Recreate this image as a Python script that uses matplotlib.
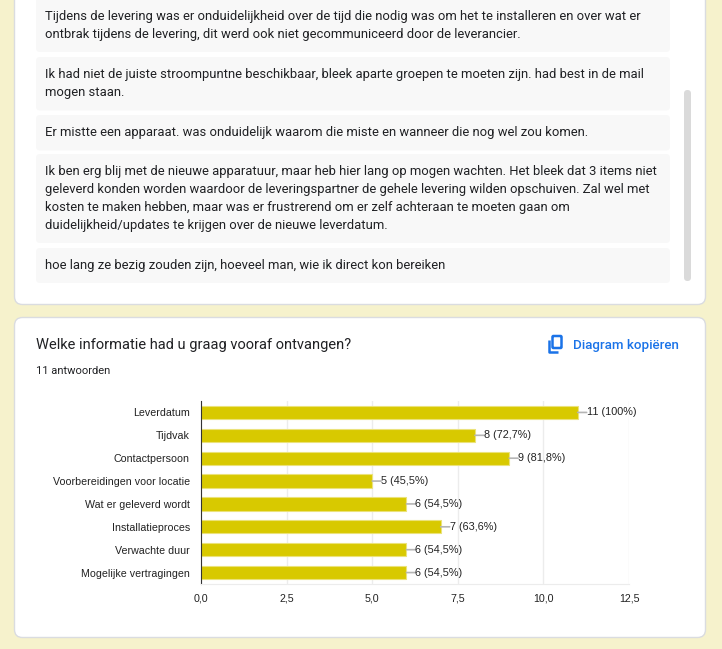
import matplotlib
matplotlib.use("Agg")
import matplotlib.pyplot as plt
from matplotlib.patches import FancyBboxPatch
from matplotlib.ticker import FuncFormatter

# Answers to the open question (top card)
responses = [
    ["Tijdens de levering was er onduidelijkheid over de tijd die nodig was om het te installeren en over wat er",
     "ontbrak tijdens de levering, dit werd ook niet gecommuniceerd door de leverancier."],
    ["Ik had niet de juiste stroompuntne beschikbaar, bleek aparte groepen te moeten zijn. had best in de mail",
     "mogen staan."],
    ["Er mistte een apparaat. was onduidelijk waarom die miste en wanneer die nog wel zou komen."],
    ["Ik ben erg blij met de nieuwe apparatuur, maar heb hier lang op mogen wachten. Het bleek dat 3 items niet",
     "geleverd konden worden waardoor de leveringspartner de gehele levering wilden opschuiven. Zal wel met",
     "kosten te maken hebben, maar was er frustrerend om er zelf achteraan te moeten gaan om",
     "duidelijkheid/updates te krijgen over de nieuwe leverdatum."],
    ["hoe lang ze bezig zouden zijn, hoeveel man, wie ik direct kon bereiken"],
]

# Bar chart data
question = "Welke informatie had u graag vooraf ontvangen?"
n_answers = "11 antwoorden"
categories = ["Leverdatum", "Tijdvak", "Contactpersoon", "Voorbereidingen voor locatie",
              "Wat er geleverd wordt", "Installatieproces", "Verwachte duur", "Mogelijke vertragingen"]
counts = [11, 8, 9, 5, 6, 7, 6, 6]
percents = ["100%", "72,7%", "81,8%", "45,5%", "54,5%", "63,6%", "54,5%", "54,5%"]

W, H = 722, 649
fig = plt.figure(figsize=(W / 100, H / 100), dpi=100)
fig.patch.set_facecolor("#f6f2cc")

# background axes in pixel coordinates
bg = fig.add_axes([0, 0, 1, 1])
bg.set_xlim(0, W)
bg.set_ylim(H, 0)
bg.axis("off")

def card(x0, y0, x1, y1):
    bg.add_patch(FancyBboxPatch((x0, y0), x1 - x0, y1 - y0,
                                boxstyle="round,pad=0,rounding_size=8",
                                fc="white", ec="#dadce0", lw=1))

card(14.5, -20, 705.5, 304.5)
card(14.5, 317.5, 705.5, 637.5)

# response boxes
boxes = [(-5, 52), (57, 110.5), (115, 150.5), (154, 243), (248, 283)]
first_line = [16.5, 74.5, 132.5, 171.5, 265.5]
for (y0, y1), lines, ly in zip(boxes, responses, first_line):
    bg.add_patch(FancyBboxPatch((36, y0), 634, y1 - y0,
                                boxstyle="round,pad=0,rounding_size=4",
                                fc="#f8f8f8", ec="none"))
    for k, line in enumerate(lines):
        bg.text(45, ly + 18 * k, line, fontsize=9.4, family="Roboto",
                color="#202124", va="center", ha="left")

# scrollbar
bg.add_patch(FancyBboxPatch((684, 90), 7, 191, boxstyle="round,pad=0,rounding_size=3.5",
                            fc="#dadada", ec="none"))

# chart card header
bg.text(36, 345, question, fontsize=10.5, family="Roboto", color="#202124", va="center")
bg.text(36, 371, n_answers, fontsize=8, family="Roboto", color="#202124", va="center")
bg.text(573, 345, "Diagram kopiëren", fontsize=9.6, family="Roboto", color="#1a73e8",
        va="center", fontweight="medium")
# copy icon
bg.add_patch(FancyBboxPatch((552.5, 336), 9, 12, boxstyle="round,pad=0,rounding_size=1",
                            fc="none", ec="#1a73e8", lw=1.8))
bg.plot([548.5, 548.5, 558], [340, 352, 352], color="#1a73e8", lw=1.8,
        solid_capstyle="butt", solid_joinstyle="round")

# chart axes
ax = fig.add_axes([201 / W, 1 - 584 / H, 428 / W, 183 / H])
ax.set_facecolor("white")
ypos = list(range(len(categories)))
ax.barh(ypos, counts, height=0.58, color="#d8c900", edgecolor="#ebe27a", linewidth=0.8, zorder=2)
ax.set_xlim(0, 12.5)
ax.set_ylim(len(categories) - 0.5, -0.5)
ax.set_xticks([0, 2.5, 5, 7.5, 10, 12.5])
ax.xaxis.set_major_formatter(FuncFormatter(lambda v, p: f"{v:.1f}".replace(".", ",")))
ax.set_yticks(ypos)
ax.set_yticklabels(categories)
ax.grid(axis="x", color="#ececec", lw=1, zorder=0)
for s in ["top", "right"]:
    ax.spines[s].set_visible(False)
ax.spines["bottom"].set_color("#ececec")
ax.spines["left"].set_color("#333333")
ax.tick_params(length=0, labelsize=7.7, colors="#222222")
ax.tick_params(axis="y", pad=8)
ax.tick_params(axis="x", pad=7)
for lab in ax.get_xticklabels() + ax.get_yticklabels():
    lab.set_family("Liberation Sans")

for i, (c, p) in enumerate(zip(counts, percents)):
    ax.annotate("", xy=(c, i), xytext=(9, 0), textcoords="offset pixels",
                arrowprops=dict(arrowstyle="-", color="#b5b5b5", lw=1.2,
                                shrinkA=0, shrinkB=0))
    ax.annotate(f"{c} ({p})", xy=(c, i), xytext=(9, 0), textcoords="offset pixels",
                va="center", ha="left", fontsize=7.8, family="Liberation Sans",
                color="#222222", annotation_clip=False)

fig.savefig("out.png", dpi=100, facecolor=fig.get_facecolor())
